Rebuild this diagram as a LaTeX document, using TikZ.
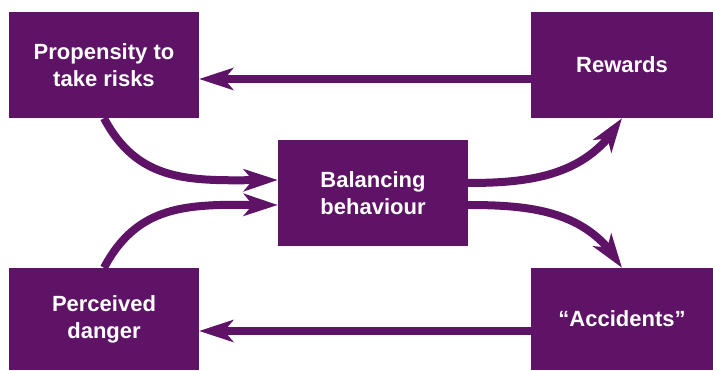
\documentclass[tikz,border=0pt]{standalone}
\usepackage{fontspec}
\setmainfont{Liberation Sans}
\usetikzlibrary{arrows.meta,bending,calc}
\definecolor{riskpurple}{HTML}{5E1366}

\begin{document}
\begin{tikzpicture}[
  x=1pt, y=1pt,
  risk_box/.style={fill=riskpurple, text=white, align=center, inner sep=0pt, minimum width=190pt, minimum height=106pt, font=\fontsize{22}{27}\selectfont\bfseries},
  side_box/.style={risk_box, minimum width=182pt}, % Narrower boxes on the right
  flow_arrow/.style={draw=riskpurple, line width=8pt, -{Stealth[length=34pt, width=22pt, inset=9pt]}}
]
\useasboundingbox (0,0) rectangle (713,370);

% Boxes
\node [risk_box] (prop) at (104,305) {Propensity to\\take risks};
\node [side_box] (rew) at (622,305) {Rewards};
\node [risk_box] (bal) at (373,177) {Balancing\\behaviour};
\node [risk_box, minimum height=102pt] (per) at (104,51) {Perceived\\danger};
\node [side_box, minimum height=102pt] (acc) at (622,51) {“Accidents”};

% Feedback arrows
\draw [flow_arrow] ($(rew.west)+(0,-14)$) -- ($(prop.east)+(0,-14)$);
\draw [flow_arrow] ($(acc.west)+(0,-12)$) -- ($(per.east)+(0,-12)$);

% Into balancing behaviour
\draw [flow_arrow] (prop.south) to[out=-62, in=180, looseness=1.1] ($(bal.west)+(0,13)$);
\draw [flow_arrow] (per.north) to[out=62, in=180, looseness=1.1] ($(bal.west)+(0,-12)$);

% Out of balancing behaviour
\draw [flow_arrow] ($(bal.east)+(0,10)$) to[out=0, in=-120] (rew.south);
\draw [flow_arrow] ($(bal.east)+(0,-12)$) to[out=0, in=120] (acc.north);
\end{tikzpicture}
\end{document}
